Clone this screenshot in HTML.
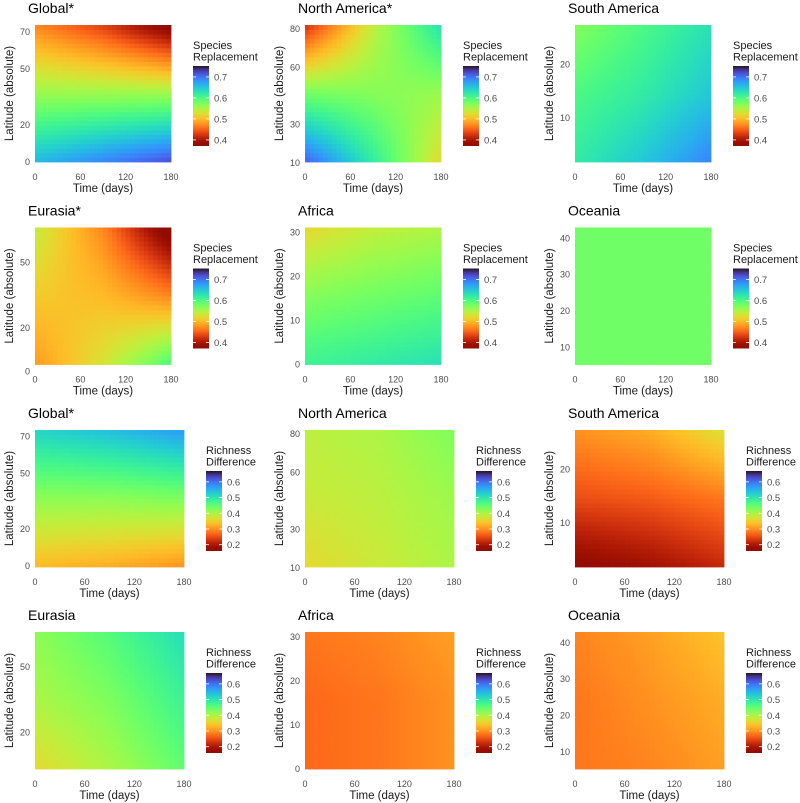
<!DOCTYPE html>
<html><head><meta charset="utf-8">
<style>
html,body{margin:0;padding:0;background:#fff;}
svg{display:block;font-family:"Liberation Sans",Arial,sans-serif;}
</style></head>
<body>
<svg id="chart" width="800" height="803" viewBox="0 0 800 803"></svg>
<script>
// ---- data ----
const panelTitles = ["Global*","North America*","South America","Eurasia*","Africa","Oceania",
                     "Global*","North America","South America","Eurasia","Africa","Oceania"];
const panelMetric = ["SR","SR","SR","SR","SR","SR","RD","RD","RD","RD","RD","RD"];
const latMin = [0,10.5,1.7,3.3,0,5.3, -0.5,10.5,1.7,3.3,0,5.3];
const latMax = [73.8,82.1,27.4,66,31.1,43, 73.5,82.1,27.4,66,31.1,43];
const yTicks = [[0,20,50,70],[10,30,60,80],[10,20],[0,20,50],[0,10,20,30],[10,20,30,40],
                [0,20,50,70],[10,30,60,80],[10,20],[20,50],[0,10,20,30],[10,20,30,40]];
const timeTicks = [0,60,120,180];
const timeSamples = [0,90,180];
// values: rows = latitude [low, mid, high], cols = time [0, 90, 180]
const gridValues = [
 [[0.66,0.69,0.72],[0.56,0.56,0.56],[0.47,0.43,0.37]],
 [[0.71,0.62,0.52],[0.58,0.57,0.56],[0.42,0.54,0.63]],
 [[0.62,0.65,0.69],[0.60,0.62,0.65],[0.57,0.60,0.63]],
 [[0.48,0.53,0.60],[0.51,0.50,0.47],[0.54,0.47,0.36]],
 [[0.61,0.62,0.63],[0.57,0.58,0.59],[0.52,0.54,0.55]],
 [[0.58,0.58,0.58],[0.58,0.58,0.58],[0.58,0.58,0.58]],
 [[0.33,0.32,0.30],[0.42,0.42,0.43],[0.52,0.54,0.57]],
 [[0.36,0.38,0.40],[0.38,0.39,0.41],[0.39,0.40,0.43]],
 [[0.17,0.19,0.22],[0.25,0.26,0.28],[0.30,0.32,0.37]],
 [[0.36,0.40,0.45],[0.40,0.43,0.48],[0.42,0.46,0.51]],
 [[0.27,0.28,0.30],[0.27,0.28,0.30],[0.28,0.29,0.31]],
 [[0.28,0.29,0.31],[0.28,0.30,0.32],[0.29,0.31,0.34]]
];
const legendTitleSR = ["Species","Replacement"];
const legendTitleRD = ["Richness","Difference"];
const legendRangeSR = [0.371,0.752];
const legendRangeRD = [0.16,0.669];
const legendTicksSR = [0.4,0.5,0.6,0.7];
const legendTicksRD = [0.2,0.3,0.4,0.5,0.6];

// ---- drawing ----
const NS="http://www.w3.org/2000/svg";
const svg=document.getElementById('chart');
function mk(tag,attrs,parent){const e=document.createElementNS(NS,tag);for(const k in attrs)e.setAttribute(k,attrs[k]);(parent||svg).appendChild(e);return e;}
function turbo(t){t=Math.max(0,Math.min(1,t));
 const r=0.13572138+t*(4.61539260+t*(-42.66032258+t*(132.13108234+t*(-152.94239396+t*59.28637943))));
 const g=0.09140261+t*(2.19418839+t*(4.84296658+t*(-14.18503333+t*(4.27729857+t*2.82956604))));
 const b=0.10667330+t*(12.64194608+t*(-60.58204836+t*(110.36276771+t*(-89.90310912+t*27.34824973))));
 const c=v=>Math.round(Math.max(0,Math.min(1,v))*255);
 return `rgb(${c(r)},${c(g)},${c(b)})`;}
function colorFor(v,range){return turbo(1-(v-range[0])/(range[1]-range[0]));}
function interp(grid,tFrac,lFrac){
 const fx=tFrac*2, fy=lFrac*2;
 const ix=Math.min(1,Math.floor(fx)), iy=Math.min(1,Math.floor(fy));
 const ax=fx-ix, ay=fy-iy;
 const v00=grid[iy][ix],v01=grid[iy][ix+1],v10=grid[iy+1][ix],v11=grid[iy+1][ix+1];
 return (v00*(1-ax)+v01*ax)*(1-ay)+(v10*(1-ax)+v11*ax)*ay;}

const colX=[0,270,540], rowY=[0,202.5,405,607];
const N=30;
for(let p=0;p<12;p++){
 const col=p%3,row=Math.floor(p/3);
 const isSR=panelMetric[p]==="SR";
 const L=35+colX[col], T=25+rowY[row], H=137, W=isSR?136:149;
 const range=isSR?legendRangeSR:legendRangeRD;
 const g=mk('g',{});
 
 
 const xScale=t=>L+t/180*W;
 const yScale=l=>T+H-(l-latMin[p])/(latMax[p]-latMin[p])*H;
 const title=mk('text',{x:L-7,y:T-12,'font-size':14,fill:'#000'},g);
 title.textContent=panelTitles[p];
 
 
 const cells=mk('g',{},g);
 
 
 for(let i=0;i<N;i++)for(let j=0;j<N;j++){
  const t0=i/N*180,t1=(i+1)/N*180;
  const l0=latMin[p]+j/N*(latMax[p]-latMin[p]), l1=latMin[p]+(j+1)/N*(latMax[p]-latMin[p]);
  const v=interp(gridValues[p],(i+0.5)/N,(j+0.5)/N);
  const x0=xScale(t0),x1=xScale(t1),y0=yScale(l1),y1=yScale(l0);
  const r=mk('rect',{x:x0.toFixed(2),y:y0.toFixed(2),width:(x1-x0+0.4).toFixed(2),height:(y1-y0+0.4).toFixed(2),fill:colorFor(v,range)},cells);
  
  
 }
 for(const tk of timeTicks){
  const tx=mk('text',{x:xScale(tk),y:T+H+18,'font-size':9,fill:'#4d4d4d','text-anchor':'middle'},g);
  tx.textContent=tk;
  
  
 }
 for(const tk of yTicks[p]){
  const ty=mk('text',{x:L-5,y:yScale(tk)+3,'font-size':9,fill:'#4d4d4d','text-anchor':'end'},g);
  ty.textContent=tk;
  
  
 }
 const xt=mk('text',{x:L+W/2,y:T+H+30,'font-size':11.5,fill:'#1a1a1a','text-anchor':'middle'},g);
 xt.textContent='Time (days)';
 
 
 const yc=T+H/2;
 const yt=mk('text',{x:13,y:yc,'font-size':11.5,fill:'#1a1a1a','text-anchor':'middle',transform:`rotate(-90 ${13+colX[col]} ${yc})`},g);
 yt.setAttribute('x',13+colX[col]);
 yt.textContent='Latitude (absolute)';
 
 
 // legend
 const lg=mk('g',{},g);
 
 
 const BX=L+W+22, BT=T+41, BB=T+121, BW=16;
 const lt=isSR?legendTitleSR:legendTitleRD;
 lt.forEach((s,k)=>{const e=mk('text',{x:BX,y:BT-17+k*11.5,'font-size':11,fill:'#1a1a1a'},lg);e.textContent=s;
  
  });
 const gid='grad'+p;
 const defs=mk('defs',{},lg);
 const lin=mk('linearGradient',{id:gid,x1:0,y1:1,x2:0,y2:0},defs);
 for(let k=0;k<=20;k++){const v=range[0]+k/20*(range[1]-range[0]);mk('stop',{offset:(k/20),'stop-color':colorFor(v,range)},lin);}
 const bar=mk('rect',{x:BX,y:BT,width:BW,height:BB-BT,fill:`url(#${gid})`},lg);
 
 
 const lticks=isSR?legendTicksSR:legendTicksRD;
 for(const tv of lticks){
  const yy=BB-(tv-range[0])/(range[1]-range[0])*(BB-BT);
  mk('line',{x1:BX,x2:BX+3,y1:yy,y2:yy,stroke:'#fff','stroke-width':0.8},lg);
  mk('line',{x1:BX+BW-3,x2:BX+BW,y1:yy,y2:yy,stroke:'#fff','stroke-width':0.8},lg);
  const e=mk('text',{x:BX+BW+5,y:yy+3.5,'font-size':9.5,fill:'#4d4d4d'},lg);
  e.textContent=tv.toFixed(1);
  
  
 }
}
</script>
</body></html>
